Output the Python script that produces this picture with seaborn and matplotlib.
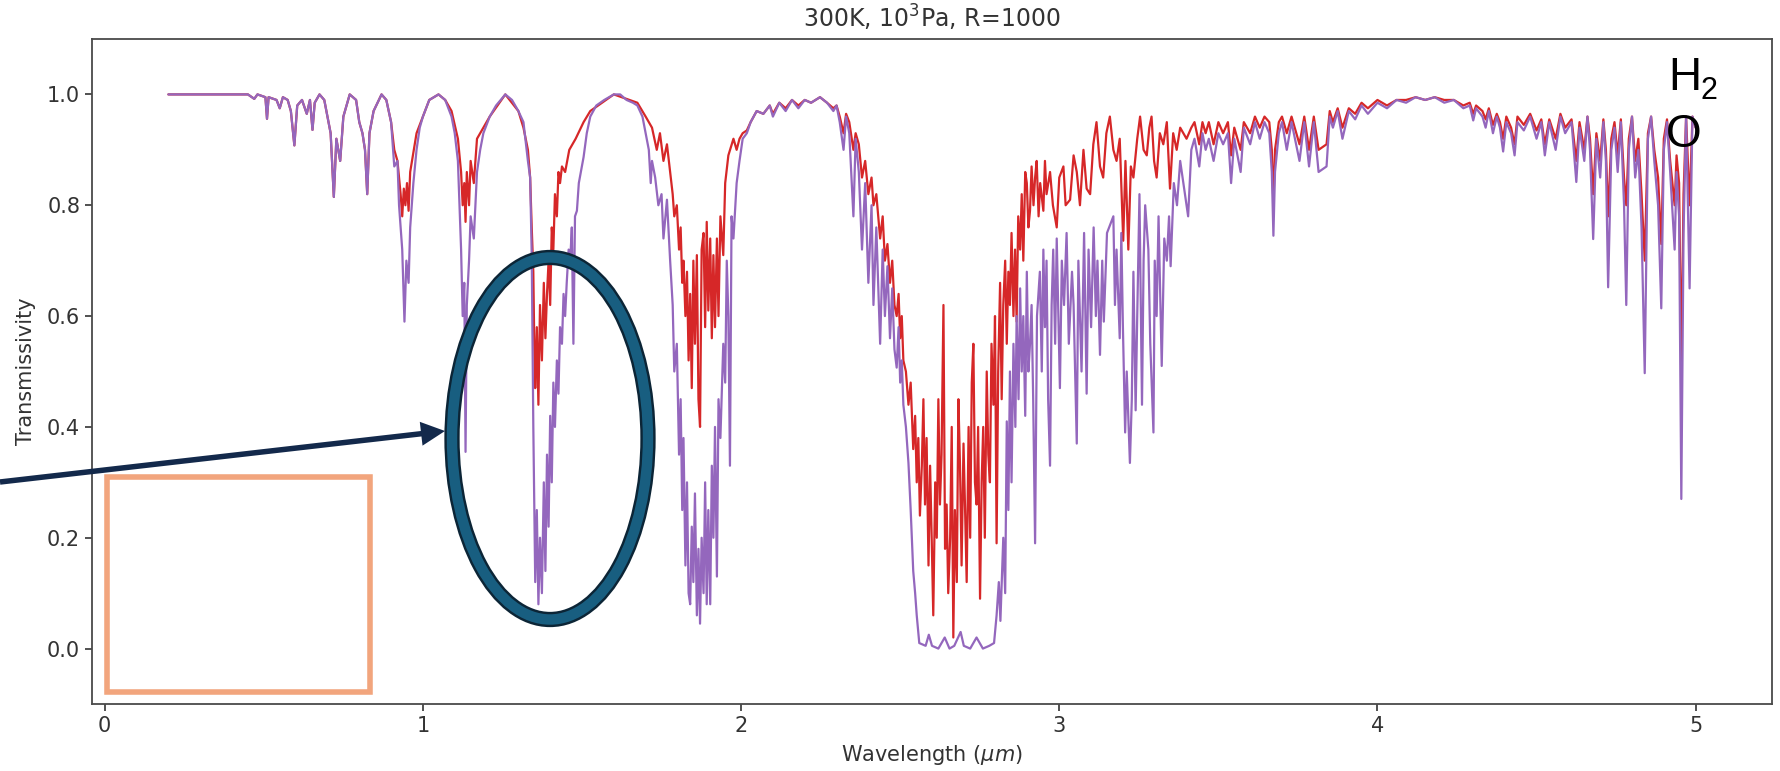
import numpy as np
import pandas as pd
import matplotlib
matplotlib.use("Agg")
import matplotlib.pyplot as plt
import matplotlib.patches as mpatches
import seaborn as sns

# ---------------- data ----------------
PURPLE_WL = [
    0.20, 0.45, 0.47, 0.48, 0.505, 0.51, 0.515, 0.54, 0.55, 0.56, 0.575, 0.585, 0.596, 0.605, 0.62,
    0.635, 0.645, 0.653, 0.66, 0.675, 0.69, 0.70, 0.71, 0.72, 0.728, 0.74, 0.75, 0.77, 0.79, 0.80,
    0.81, 0.818, 0.825, 0.832, 0.845, 0.87, 0.885, 0.90, 0.91, 0.92, 0.925, 0.93, 0.935, 0.942, 0.948,
    0.955, 0.96, 0.97, 0.98, 0.99, 1.00, 1.02, 1.049, 1.07, 1.09, 1.10, 1.11, 1.115, 1.12, 1.125,
    1.13, 1.134, 1.138, 1.145, 1.15, 1.16, 1.17, 1.18, 1.19, 1.21, 1.23, 1.259, 1.28, 1.30, 1.316,
    1.33, 1.337, 1.342, 1.347, 1.353, 1.358, 1.363, 1.368, 1.374, 1.38, 1.385, 1.39, 1.395, 1.40, 1.405,
    1.41, 1.415, 1.421, 1.426, 1.431, 1.437, 1.442, 1.447, 1.452, 1.458, 1.463, 1.468, 1.473, 1.478, 1.484,
    1.49, 1.505, 1.515, 1.526, 1.545, 1.57, 1.60, 1.62, 1.64, 1.66, 1.674, 1.69, 1.70, 1.71, 1.716,
    1.72, 1.73, 1.74, 1.75, 1.756, 1.767, 1.777, 1.785, 1.79, 1.798, 1.805, 1.81, 1.815, 1.819, 1.825,
    1.83, 1.835, 1.84, 1.845, 1.85, 1.855, 1.861, 1.866, 1.871, 1.876, 1.882, 1.887, 1.892, 1.897, 1.903,
    1.908, 1.913, 1.918, 1.924, 1.929, 1.935, 1.944, 1.95, 1.955, 1.96, 1.965, 1.97, 1.976, 1.986, 1.995,
    2.005, 2.018, 2.03, 2.049, 2.07, 2.09, 2.10, 2.12, 2.14, 2.16, 2.18, 2.20, 2.22, 2.248, 2.27,
    2.29, 2.30, 2.31, 2.322, 2.33, 2.34, 2.353, 2.36, 2.37, 2.38, 2.39, 2.40, 2.41, 2.416, 2.425,
    2.437, 2.445, 2.452, 2.46, 2.468, 2.475, 2.482, 2.489, 2.495, 2.50, 2.505, 2.51, 2.518, 2.526, 2.533,
    2.541, 2.547, 2.552, 2.56, 2.58, 2.59, 2.60, 2.62, 2.64, 2.655, 2.67, 2.69, 2.70, 2.72, 2.74,
    2.76, 2.78, 2.795, 2.803, 2.81, 2.815, 2.824, 2.83, 2.835, 2.84, 2.845, 2.85, 2.856, 2.862, 2.866,
    2.872, 2.877, 2.882, 2.887, 2.893, 2.898, 2.903, 2.908, 2.913, 2.918, 2.924, 2.93, 2.939, 2.945, 2.95,
    2.955, 2.96, 2.965, 2.971, 2.976, 2.981, 2.987, 2.992, 3.002, 3.008, 3.015, 3.023, 3.03, 3.04, 3.045,
    3.055, 3.06, 3.07, 3.078, 3.086, 3.092, 3.10, 3.108, 3.115, 3.12, 3.128, 3.135, 3.14, 3.15, 3.17,
    3.175, 3.18, 3.19, 3.195, 3.20, 3.207, 3.212, 3.222, 3.228, 3.233, 3.24, 3.245, 3.252, 3.26, 3.265,
    3.27, 3.28, 3.286, 3.296, 3.30, 3.306, 3.312, 3.322, 3.33, 3.338, 3.345, 3.35, 3.36, 3.37, 3.38,
    3.39, 3.405, 3.415, 3.425, 3.44, 3.45, 3.46, 3.47, 3.485, 3.50, 3.515, 3.53, 3.54, 3.55, 3.57,
    3.58, 3.60, 3.615, 3.63, 3.645, 3.66, 3.668, 3.673, 3.678, 3.69, 3.70, 3.715, 3.73, 3.755, 3.77,
    3.785, 3.80, 3.815, 3.84, 3.85, 3.86, 3.875, 3.89, 3.91, 3.93, 3.95, 3.97, 4.00, 4.03, 4.06,
    4.09, 4.12, 4.15, 4.18, 4.21, 4.24, 4.27, 4.29, 4.301, 4.31, 4.33, 4.34, 4.35, 4.363, 4.375,
    4.385, 4.395, 4.405, 4.42, 4.431, 4.44, 4.46, 4.48, 4.50, 4.515, 4.526, 4.54, 4.56, 4.575, 4.59,
    4.61, 4.625, 4.635, 4.65, 4.66, 4.668, 4.678, 4.688, 4.70, 4.71, 4.718, 4.725, 4.735, 4.745, 4.755,
    4.765, 4.775, 4.782, 4.79, 4.80, 4.81, 4.82, 4.83, 4.84, 4.85, 4.86, 4.87, 4.882, 4.892, 4.90,
    4.91, 4.92, 4.934, 4.94, 4.948, 4.955, 4.962, 4.97, 4.981, 4.99, 5.00,
]
PURPLE_T = [
    1.000, 1.000, 0.992, 1.000, 0.995, 0.956, 0.995, 0.990, 0.975, 0.995, 0.990, 0.970, 0.908, 0.980, 0.990,
    0.965, 0.990, 0.936, 0.985, 1.000, 0.990, 0.960, 0.930, 0.815, 0.920, 0.880, 0.960, 1.000, 0.990, 0.950,
    0.930, 0.900, 0.820, 0.930, 0.970, 1.000, 0.990, 0.950, 0.870, 0.880, 0.800, 0.760, 0.720, 0.590, 0.700,
    0.660, 0.760, 0.840, 0.900, 0.940, 0.960, 0.990, 1.000, 0.990, 0.960, 0.930, 0.880, 0.800, 0.720, 0.600,
    0.660, 0.355, 0.620, 0.700, 0.780, 0.740, 0.860, 0.900, 0.930, 0.960, 0.980, 1.000, 0.990, 0.970, 0.950,
    0.880, 0.850, 0.710, 0.400, 0.120, 0.250, 0.080, 0.200, 0.100, 0.300, 0.140, 0.350, 0.220, 0.420, 0.300,
    0.480, 0.400, 0.520, 0.460, 0.580, 0.550, 0.640, 0.600, 0.660, 0.720, 0.700, 0.760, 0.550, 0.780, 0.790,
    0.840, 0.887, 0.930, 0.960, 0.980, 0.990, 1.000, 1.000, 0.990, 0.985, 0.980, 0.960, 0.930, 0.900, 0.840,
    0.880, 0.850, 0.800, 0.820, 0.740, 0.810, 0.700, 0.620, 0.500, 0.550, 0.350, 0.450, 0.250, 0.380, 0.150,
    0.300, 0.100, 0.080, 0.220, 0.120, 0.280, 0.060, 0.180, 0.045, 0.200, 0.100, 0.300, 0.080, 0.250, 0.080,
    0.330, 0.200, 0.400, 0.130, 0.450, 0.380, 0.550, 0.480, 0.700, 0.600, 0.330, 0.780, 0.740, 0.840, 0.880,
    0.920, 0.930, 0.950, 0.970, 0.965, 0.980, 0.960, 0.985, 0.970, 0.990, 0.975, 0.990, 0.985, 0.995, 0.985,
    0.970, 0.980, 0.950, 0.900, 0.960, 0.930, 0.780, 0.920, 0.860, 0.720, 0.840, 0.660, 0.800, 0.620, 0.760,
    0.550, 0.720, 0.600, 0.690, 0.560, 0.650, 0.540, 0.507, 0.580, 0.480, 0.520, 0.440, 0.400, 0.335, 0.250,
    0.140, 0.100, 0.060, 0.010, 0.005, 0.025, 0.005, 0.000, 0.020, 0.000, 0.005, 0.030, 0.005, 0.000, 0.020,
    0.000, 0.005, 0.010, 0.060, 0.120, 0.050, 0.200, 0.100, 0.410, 0.250, 0.500, 0.300, 0.550, 0.400, 0.600,
    0.450, 0.650, 0.500, 0.600, 0.420, 0.680, 0.500, 0.550, 0.620, 0.450, 0.190, 0.600, 0.680, 0.500, 0.720,
    0.580, 0.700, 0.450, 0.330, 0.620, 0.720, 0.550, 0.740, 0.470, 0.700, 0.620, 0.750, 0.550, 0.680, 0.620,
    0.370, 0.700, 0.500, 0.750, 0.460, 0.720, 0.580, 0.760, 0.600, 0.700, 0.530, 0.700, 0.590, 0.750, 0.780,
    0.620, 0.720, 0.560, 0.750, 0.580, 0.390, 0.500, 0.335, 0.450, 0.680, 0.430, 0.600, 0.820, 0.440, 0.700,
    0.800, 0.720, 0.550, 0.390, 0.700, 0.600, 0.780, 0.510, 0.740, 0.700, 0.780, 0.690, 0.840, 0.800, 0.880,
    0.840, 0.780, 0.900, 0.920, 0.870, 0.930, 0.900, 0.920, 0.880, 0.930, 0.910, 0.930, 0.840, 0.920, 0.860,
    0.940, 0.910, 0.950, 0.920, 0.950, 0.930, 0.860, 0.745, 0.860, 0.930, 0.950, 0.900, 0.950, 0.880, 0.950,
    0.870, 0.950, 0.860, 0.870, 0.960, 0.940, 0.970, 0.920, 0.970, 0.955, 0.980, 0.965, 0.985, 0.975, 0.990,
    0.985, 0.995, 0.990, 0.995, 0.985, 0.990, 0.975, 0.980, 0.953, 0.975, 0.960, 0.940, 0.970, 0.930, 0.960,
    0.940, 0.897, 0.950, 0.930, 0.890, 0.950, 0.935, 0.960, 0.920, 0.950, 0.890, 0.950, 0.900, 0.960, 0.930,
    0.950, 0.842, 0.940, 0.880, 0.960, 0.900, 0.739, 0.920, 0.850, 0.950, 0.880, 0.652, 0.900, 0.940, 0.860,
    0.950, 0.800, 0.620, 0.900, 0.960, 0.850, 0.900, 0.760, 0.497, 0.920, 0.960, 0.880, 0.800, 0.614, 0.900,
    0.950, 0.860, 0.720, 0.860, 0.780, 0.270, 0.750, 0.960, 0.650, 0.960, 0.940,
]

# red series, by spectral region
RED_WL_VIS = [
    0.20, 0.45, 0.47, 0.48, 0.505, 0.51, 0.515, 0.54, 0.55, 0.56,
    0.575, 0.585, 0.596, 0.605, 0.62, 0.635, 0.645, 0.653, 0.66, 0.675,
    0.69, 0.70, 0.71, 0.72, 0.728, 0.74, 0.75, 0.77, 0.79, 0.80,
    0.81, 0.818, 0.825, 0.832, 0.845, 0.87, 0.885, 0.90, 0.91, 0.92,
    0.93, 0.935, 0.94, 0.945, 0.95, 0.955, 0.96, 0.98, 1.00, 1.02,
    1.049, 1.07, 1.09, 1.11, 1.12, 1.125, 1.13, 1.134, 1.138, 1.145,
    1.15, 1.16, 1.17, 1.19, 1.21, 1.259,
]
RED_T_VIS = [
    1.000, 1.000, 0.992, 1.000, 0.995, 0.956, 0.995, 0.990, 0.975, 0.995,
    0.990, 0.970, 0.908, 0.980, 0.990, 0.965, 0.990, 0.936, 0.985, 1.000,
    0.990, 0.960, 0.930, 0.815, 0.920, 0.880, 0.960, 1.000, 0.990, 0.950,
    0.930, 0.900, 0.820, 0.930, 0.970, 1.000, 0.990, 0.950, 0.900, 0.880,
    0.820, 0.780, 0.830, 0.800, 0.840, 0.790, 0.860, 0.930, 0.960, 0.990,
    1.000, 0.990, 0.970, 0.920, 0.860, 0.800, 0.840, 0.770, 0.860, 0.800,
    0.880, 0.840, 0.920, 0.940, 0.960, 1.000,
]
RED_WL_NIR = [
    1.30, 1.316, 1.33, 1.337, 1.342, 1.347, 1.35, 1.353, 1.358, 1.363,
    1.368, 1.374, 1.38, 1.385, 1.39, 1.395, 1.40, 1.405, 1.41, 1.415,
    1.421, 1.426, 1.431, 1.437, 1.447, 1.46, 1.48, 1.505, 1.526, 1.60,
    1.674, 1.70, 1.72, 1.735, 1.745, 1.756, 1.767, 1.777, 1.785, 1.79,
    1.798, 1.805, 1.81, 1.815, 1.819, 1.825, 1.83, 1.835, 1.84, 1.845,
    1.85, 1.855, 1.861, 1.866, 1.871, 1.876, 1.882, 1.887, 1.892, 1.897,
    1.903, 1.908, 1.913, 1.918, 1.924, 1.929, 1.935, 1.944, 1.95, 1.96,
]
RED_T_NIR = [
    0.970, 0.940, 0.900, 0.850, 0.760, 0.680, 0.550, 0.470, 0.580, 0.440,
    0.620, 0.520, 0.660, 0.560, 0.640, 0.700, 0.620, 0.760, 0.720, 0.820,
    0.780, 0.860, 0.840, 0.870, 0.860, 0.900, 0.920, 0.950, 0.970, 1.000,
    0.985, 0.960, 0.940, 0.900, 0.930, 0.880, 0.910, 0.860, 0.820, 0.780,
    0.800, 0.720, 0.760, 0.660, 0.700, 0.600, 0.680, 0.520, 0.640, 0.470,
    0.700, 0.550, 0.710, 0.450, 0.400, 0.720, 0.750, 0.580, 0.770, 0.610,
    0.740, 0.560, 0.710, 0.580, 0.740, 0.600, 0.780, 0.710, 0.840, 0.890,
]
RED_WL_K = [
    1.976, 1.986, 1.995, 2.005, 2.018, 2.03, 2.049, 2.07, 2.09, 2.10,
    2.12, 2.14, 2.16, 2.18, 2.20, 2.22, 2.248, 2.27, 2.29, 2.30,
    2.31, 2.322, 2.33, 2.34, 2.353, 2.36, 2.37, 2.38, 2.39, 2.40,
    2.41, 2.416, 2.425, 2.437, 2.445, 2.452, 2.46, 2.468, 2.475, 2.482,
    2.489, 2.495, 2.50, 2.505, 2.51, 2.518, 2.526, 2.533, 2.541, 2.547,
    2.552, 2.557, 2.562, 2.568,
]
RED_T_K = [
    0.920, 0.900, 0.920, 0.930, 0.935, 0.950, 0.970, 0.965, 0.980, 0.965,
    0.985, 0.975, 0.990, 0.980, 0.990, 0.985, 0.995, 0.985, 0.975, 0.980,
    0.960, 0.930, 0.965, 0.950, 0.900, 0.930, 0.910, 0.850, 0.880, 0.820,
    0.850, 0.800, 0.820, 0.740, 0.780, 0.700, 0.730, 0.660, 0.700, 0.620,
    0.600, 0.640, 0.560, 0.600, 0.520, 0.500, 0.440, 0.480, 0.360, 0.420,
    0.300, 0.380, 0.240, 0.330,
]
RED_WL_BAND27 = [
    2.573, 2.578, 2.583, 2.589, 2.594, 2.599, 2.604, 2.61, 2.615, 2.62,
    2.625, 2.63, 2.636, 2.641, 2.646, 2.651, 2.657, 2.662, 2.667, 2.672,
    2.678, 2.683, 2.688, 2.693, 2.699, 2.704, 2.709, 2.715, 2.72, 2.725,
    2.73, 2.735, 2.74, 2.745, 2.751, 2.756, 2.761, 2.766, 2.772, 2.777,
    2.782, 2.787, 2.793, 2.798, 2.803, 2.808, 2.814, 2.819, 2.824, 2.83,
    2.835, 2.84, 2.845, 2.85, 2.856, 2.861, 2.866, 2.871, 2.877, 2.882,
    2.887, 2.893, 2.898, 2.903, 2.908, 2.913, 2.919, 2.924, 2.929, 2.935,
    2.94, 2.95, 2.955, 2.96, 2.971, 2.98, 2.992, 3.00, 3.013, 3.02,
    3.034, 3.045, 3.055, 3.065, 3.076, 3.086, 3.097, 3.107, 3.117, 3.128,
    3.138, 3.148, 3.159, 3.17, 3.18, 3.19, 3.201, 3.208, 3.217, 3.225,
    3.233, 3.245, 3.254, 3.265, 3.275, 3.283, 3.29, 3.298, 3.306, 3.316,
    3.327, 3.338, 3.348, 3.358, 3.369, 3.38,
]
RED_T_BAND27 = [
    0.450, 0.260, 0.380, 0.150, 0.330, 0.200, 0.060, 0.300, 0.200, 0.450,
    0.260, 0.350, 0.620, 0.180, 0.260, 0.100, 0.200, 0.400, 0.020, 0.250,
    0.120, 0.450, 0.330, 0.150, 0.370, 0.250, 0.120, 0.400, 0.200, 0.480,
    0.550, 0.300, 0.260, 0.400, 0.090, 0.300, 0.400, 0.200, 0.500, 0.350,
    0.300, 0.550, 0.440, 0.600, 0.190, 0.500, 0.660, 0.450, 0.620, 0.700,
    0.550, 0.680, 0.620, 0.750, 0.600, 0.720, 0.590, 0.780, 0.720, 0.820,
    0.700, 0.860, 0.840, 0.760, 0.790, 0.870, 0.800, 0.850, 0.880, 0.780,
    0.840, 0.790, 0.880, 0.820, 0.860, 0.800, 0.760, 0.850, 0.870, 0.800,
    0.810, 0.890, 0.860, 0.800, 0.900, 0.830, 0.820, 0.910, 0.950, 0.870,
    0.850, 0.930, 0.960, 0.900, 0.880, 0.920, 0.736, 0.880, 0.720, 0.870,
    0.850, 0.920, 0.960, 0.900, 0.890, 0.940, 0.960, 0.880, 0.850, 0.930,
    0.910, 0.950, 0.830, 0.930, 0.900, 0.940,
]
RED_WL_MIR = [
    3.40, 3.415, 3.425, 3.44, 3.45, 3.46, 3.47, 3.485, 3.50, 3.515,
    3.53, 3.54, 3.55, 3.57, 3.58, 3.60, 3.615, 3.63, 3.645, 3.66,
    3.668, 3.673, 3.678, 3.69, 3.70, 3.715, 3.73, 3.755, 3.77, 3.785,
    3.80, 3.815, 3.84, 3.85, 3.86, 3.875, 3.89, 3.91, 3.93, 3.95,
    3.97, 4.00, 4.03, 4.06, 4.09, 4.12, 4.15, 4.18, 4.21, 4.24,
    4.27, 4.29, 4.301, 4.31, 4.33, 4.34, 4.35, 4.363, 4.375, 4.385,
    4.395, 4.405, 4.42, 4.431, 4.44, 4.46, 4.48, 4.50, 4.515, 4.526,
    4.54, 4.56, 4.575, 4.59, 4.61, 4.625, 4.635, 4.65, 4.66, 4.668,
    4.678, 4.688, 4.70, 4.71, 4.718, 4.725, 4.735, 4.745, 4.755, 4.765,
    4.775, 4.782, 4.79, 4.80, 4.81, 4.82, 4.83, 4.84, 4.85, 4.86,
    4.87, 4.882, 4.892, 4.90, 4.91, 4.92, 4.934, 4.94, 4.948, 4.955,
    4.962, 4.97, 4.981, 4.99, 5.00,
]
RED_T_MIR = [
    0.920, 0.940, 0.950, 0.910, 0.950, 0.930, 0.950, 0.910, 0.950, 0.930,
    0.950, 0.890, 0.940, 0.900, 0.950, 0.930, 0.960, 0.940, 0.960, 0.950,
    0.900, 0.800, 0.900, 0.950, 0.960, 0.930, 0.960, 0.910, 0.960, 0.900,
    0.960, 0.900, 0.910, 0.970, 0.950, 0.975, 0.940, 0.975, 0.965, 0.985,
    0.975, 0.990, 0.980, 0.990, 0.990, 0.995, 0.990, 0.995, 0.990, 0.990,
    0.980, 0.985, 0.965, 0.980, 0.970, 0.955, 0.975, 0.945, 0.965, 0.950,
    0.920, 0.960, 0.940, 0.910, 0.960, 0.945, 0.965, 0.935, 0.955, 0.910,
    0.955, 0.920, 0.965, 0.940, 0.955, 0.880, 0.950, 0.900, 0.960, 0.920,
    0.820, 0.930, 0.880, 0.955, 0.900, 0.780, 0.920, 0.950, 0.890, 0.955,
    0.850, 0.800, 0.920, 0.960, 0.880, 0.920, 0.820, 0.700, 0.930, 0.960,
    0.900, 0.850, 0.730, 0.920, 0.955, 0.880, 0.800, 0.890, 0.840, 0.500,
    0.820, 0.960, 0.800, 0.960, 0.940,
]

RED_WL = RED_WL_VIS + RED_WL_NIR + RED_WL_K + RED_WL_BAND27 + RED_WL_MIR
RED_T = RED_T_VIS + RED_T_NIR + RED_T_K + RED_T_BAND27 + RED_T_MIR

X_TICKS = [0, 1, 2, 3, 4, 5]
Y_TICKS = [0.0, 0.2, 0.4, 0.6, 0.8, 1.0]
TITLE = r"300K, 10$^3$Pa, R=1000"
XLABEL = r"Wavelength ($\mu m$)"
YLABEL = "Transmissivity"

# ---------------- styling ----------------
sns.set_style("ticks")
plt.rcParams["font.family"] = ["DejaVu Sans"]
plt.rcParams["text.color"] = "#333333"
plt.rcParams["axes.labelcolor"] = "#333333"
plt.rcParams["xtick.color"] = "#333333"
plt.rcParams["ytick.color"] = "#333333"

RED = "#d62728"
PURPLE = "#9467bd"

fig = plt.figure(figsize=(17.8, 7.71), dpi=100)
ax = fig.add_axes([92 / 1780, 1 - 704 / 771, (1772 - 92) / 1780, (704 - 39) / 771])

red_df = pd.DataFrame({"wl": RED_WL, "t": RED_T})
pur_df = pd.DataFrame({"wl": PURPLE_WL, "t": PURPLE_T})
sns.lineplot(data=red_df, x="wl", y="t", color=RED, lw=1.6, estimator=None, sort=False, ax=ax)
sns.lineplot(data=pur_df, x="wl", y="t", color=PURPLE, lw=1.6, estimator=None, sort=False, ax=ax)

ax.set_xlim(-0.04, 5.24)
ax.set_ylim(-0.1, 1.1)
ax.set_xticks(X_TICKS)
ax.set_xticklabels([str(v) for v in X_TICKS])
ax.set_yticks(Y_TICKS)
ax.set_yticklabels([f"{v:.1f}" for v in Y_TICKS])
ax.tick_params(labelsize=15, length=5, width=1.2, colors="#333333")
for s in ax.spines.values():
    s.set_color("#4a4a4a")
    s.set_linewidth(1.3)
ax.set_xlabel(XLABEL, fontsize=15, labelpad=5)
ax.set_ylabel(YLABEL, fontsize=15, labelpad=8)
ax.set_title(TITLE, fontsize=17, pad=8, color="#333333")

# ---------------- overlay annotations (pixel space) ----------------
ov = fig.add_axes([0, 0, 1, 1], zorder=5)
ov.set_xlim(0, 1780)
ov.set_ylim(771, 0)
ov.axis("off")
ov.patch.set_alpha(0)

# salmon rectangle
ov.add_patch(mpatches.Rectangle((106.5, 477), 263.5, 215, fill=False,
                                edgecolor="#F2A57D", lw=4.0))
# teal ellipse with dark outline
ov.add_patch(mpatches.Ellipse((550, 438.5), 196, 362, fill=False,
                              edgecolor="#0c2536", lw=11.0))
ov.add_patch(mpatches.Ellipse((550, 438.5), 196, 362, fill=False,
                              edgecolor="#185e80", lw=7.5))
# arrow
ov.add_patch(mpatches.FancyArrow(0, 482, 445, -51, width=5.5, head_width=24,
                                 head_length=24, length_includes_head=True,
                                 color="#13294b", lw=0))

# H2O label
ov.text(1668, 90, "H", fontsize=33, family="Liberation Sans", color="black", va="baseline", ha="left")
ov.text(1700, 99, "2", fontsize=22, family="Liberation Sans", color="black", va="baseline", ha="left")
ov.text(1666, 147, "O", fontsize=33, family="Liberation Sans", color="black", va="baseline", ha="left")

fig.savefig("out.png", dpi=100)
